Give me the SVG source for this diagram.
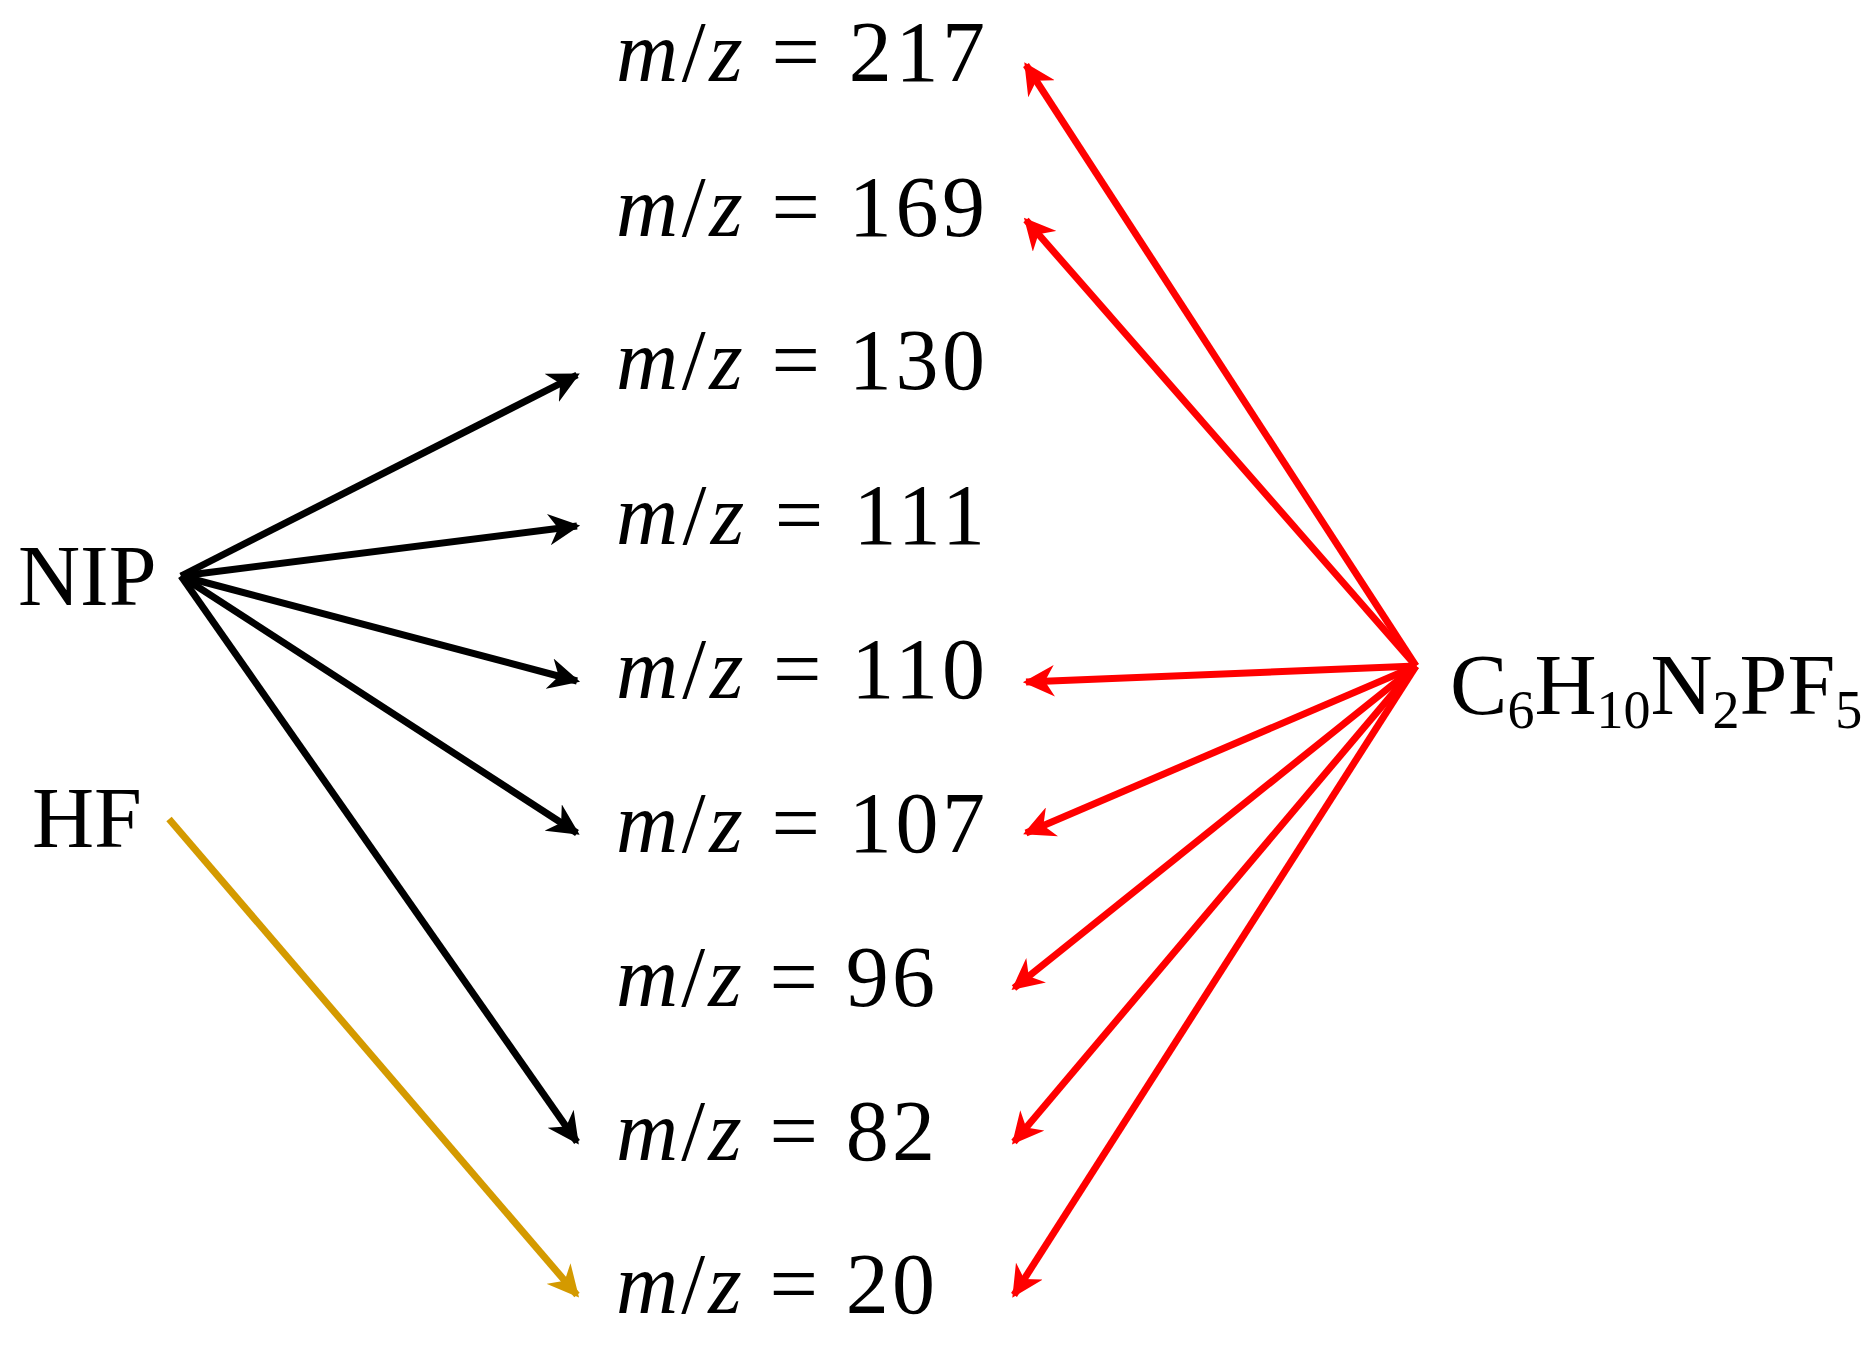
<svg xmlns="http://www.w3.org/2000/svg" width="1866" height="1358" viewBox="0 0 1866 1358">
<style>
text{font-family:"Liberation Serif","DejaVu Serif",serif;font-size:86px;fill:#000}
.k{stroke:#000;stroke-width:7;fill:none}
.r{stroke:#ff0000;stroke-width:7;fill:none}
.y{stroke:#d49a00;stroke-width:7;fill:none}
</style>
<defs>
<marker id="ak" viewBox="0 0 10 10" refX="9" refY="5" markerWidth="4.5" markerHeight="4.5" orient="auto" markerUnits="strokeWidth"><path d="M0,0 L10,5 L0,10 L3,5 Z" fill="#000"/></marker>
<marker id="ar" viewBox="0 0 10 10" refX="9" refY="5" markerWidth="4.5" markerHeight="4.5" orient="auto" markerUnits="strokeWidth"><path d="M0,0 L10,5 L0,10 L3,5 Z" fill="#ff0000"/></marker>
<marker id="ay" viewBox="0 0 10 10" refX="9" refY="5" markerWidth="4.5" markerHeight="4.5" orient="auto" markerUnits="strokeWidth"><path d="M0,0 L10,5 L0,10 L3,5 Z" fill="#d49a00"/></marker>
</defs>
<g id="connectors">
<line class="k" x1="181" y1="576" x2="577" y2="375" marker-end="url(#ak)"/>
<line class="k" x1="181" y1="576" x2="577" y2="526" marker-end="url(#ak)"/>
<line class="k" x1="181" y1="576" x2="577" y2="681" marker-end="url(#ak)"/>
<line class="k" x1="181" y1="576" x2="577" y2="833" marker-end="url(#ak)"/>
<line class="k" x1="181" y1="576" x2="577" y2="1142" marker-end="url(#ak)"/>
<line class="y" x1="169" y1="819" x2="577" y2="1295" marker-end="url(#ay)"/>
<line class="r" x1="1416" y1="666" x2="1026" y2="65" marker-end="url(#ar)"/>
<line class="r" x1="1416" y1="666" x2="1026" y2="220" marker-end="url(#ar)"/>
<line class="r" x1="1416" y1="666" x2="1026" y2="682" marker-end="url(#ar)"/>
<line class="r" x1="1416" y1="666" x2="1026" y2="833" marker-end="url(#ar)"/>
<line class="r" x1="1416" y1="666" x2="1014" y2="988" marker-end="url(#ar)"/>
<line class="r" x1="1416" y1="666" x2="1014" y2="1142" marker-end="url(#ar)"/>
<line class="r" x1="1416" y1="666" x2="1014" y2="1295" marker-end="url(#ar)"/>
</g>
<g id="NIP"><text x="18" y="605">NIP</text></g>
<g id="HF"><text x="32" y="847">HF</text></g>
<g id="C6H10N2PF5"><text x="1450" y="714" font-size="80">C<tspan font-size="54" dy="14">6</tspan><tspan dy="-14">H</tspan><tspan font-size="54" dy="14">10</tspan><tspan dy="-14">N</tspan><tspan font-size="54" dy="14">2</tspan><tspan dy="-14">PF</tspan><tspan font-size="54" dy="14">5</tspan></text></g>
<g id="mz217"><text x="616" y="81" textLength="369" lengthAdjust="spacing"><tspan font-style="italic">m</tspan>/<tspan font-style="italic">z</tspan> = 217</text></g>
<g id="mz169"><text x="616" y="236" textLength="369" lengthAdjust="spacing"><tspan font-style="italic">m</tspan>/<tspan font-style="italic">z</tspan> = 169</text></g>
<g id="mz130"><text x="616" y="389" textLength="369" lengthAdjust="spacing"><tspan font-style="italic">m</tspan>/<tspan font-style="italic">z</tspan> = 130</text></g>
<g id="mz111"><text x="616" y="544" textLength="369" lengthAdjust="spacing"><tspan font-style="italic">m</tspan>/<tspan font-style="italic">z</tspan> = 111</text></g>
<g id="mz110"><text x="616" y="698" textLength="369" lengthAdjust="spacing"><tspan font-style="italic">m</tspan>/<tspan font-style="italic">z</tspan> = 110</text></g>
<g id="mz107"><text x="616" y="852" textLength="369" lengthAdjust="spacing"><tspan font-style="italic">m</tspan>/<tspan font-style="italic">z</tspan> = 107</text></g>
<g id="mz96"><text x="616" y="1006" textLength="319" lengthAdjust="spacing"><tspan font-style="italic">m</tspan>/<tspan font-style="italic">z</tspan> = 96</text></g>
<g id="mz82"><text x="616" y="1160" textLength="319" lengthAdjust="spacing"><tspan font-style="italic">m</tspan>/<tspan font-style="italic">z</tspan> = 82</text></g>
<g id="mz20"><text x="616" y="1313" textLength="319" lengthAdjust="spacing"><tspan font-style="italic">m</tspan>/<tspan font-style="italic">z</tspan> = 20</text></g>
</svg>
